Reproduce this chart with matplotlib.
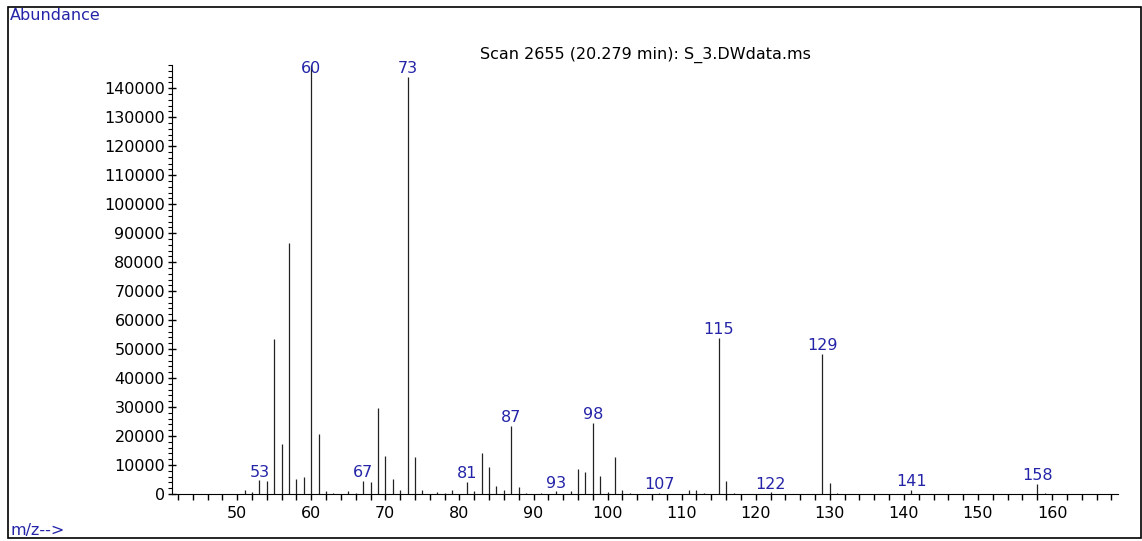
import matplotlib
matplotlib.use("Agg")
import matplotlib.pyplot as plt
from matplotlib.patches import Rectangle
from matplotlib.ticker import MultipleLocator

# peak list (m/z, abundance)
mz = [51, 52, 53, 54, 55, 56, 57, 58, 59, 60, 61, 62, 63, 65, 66, 67, 68, 69, 70,
      71, 72, 73, 74, 75, 77, 78, 79, 81, 82, 83, 84, 85, 86, 87, 88, 89, 91, 93,
      95, 96, 97, 98, 99, 100, 101, 102, 103, 107, 111, 112, 113, 115, 116, 117,
      122, 129, 130, 131, 141, 158, 159]
abundance = [1400, 600, 4700, 4400, 53500, 17100, 86600, 5200, 5900, 148000, 20600,
             1100, 400, 900, 400, 4500, 4100, 29700, 13100, 5100, 1300, 143800,
             12600, 1300, 600, 300, 1500, 4100, 900, 14000, 9300, 2900, 1500, 23400,
             2300, 400, 400, 900, 1000, 8500, 7500, 24600, 6200, 600, 12600, 1500,
             300, 300, 1500, 1500, 400, 53800, 4500, 400, 600, 48300, 3700, 300,
             1500, 3600, 400]
labelled = [53, 60, 67, 73, 81, 87, 93, 98, 107, 115, 122, 129, 141, 158]

title = "Scan 2655 (20.279 min): S_3.DWdata.ms"
blue = "#2424a8"
fs = 11.5

fig = plt.figure(figsize=(11.42, 5.41), dpi=100)
ax = fig.add_axes([172/1142, 1-494/541, (1118-172)/1142, (494-65)/541])

ymax = 148000
ax.vlines(mz, 0, abundance, colors="#222222", linewidth=0.9)

# peak labels, capped just under the top of the axes
for m, h in zip(mz, abundance):
    if m in labelled:
        ax.annotate(str(m), xy=(m, min(h, 143800)), xytext=(0, 0.5),
                    textcoords="offset points", ha="center", va="bottom",
                    color=blue, fontsize=fs)

ax.set_xlim(41.2, 168.9)
ax.set_ylim(0, ymax)
ax.xaxis.set_major_locator(MultipleLocator(10))
ax.xaxis.set_minor_locator(MultipleLocator(2))
ax.yaxis.set_major_locator(MultipleLocator(10000))
ax.yaxis.set_minor_locator(MultipleLocator(2000))
ax.set_xticks(range(50, 161, 10))
ax.tick_params(axis="x", which="both", direction="out", length=4, width=1,
               labelsize=fs, pad=5)
ax.tick_params(axis="y", which="major", direction="inout", length=6, width=1,
               labelsize=fs, pad=2)
ax.tick_params(axis="y", which="minor", direction="out", length=3, width=0.8)
for s in ["top", "right"]:
    ax.spines[s].set_visible(False)
ax.patch.set_visible(False)

ax.text(0.5, 1.005, title, transform=ax.transAxes, ha="center", va="bottom",
        fontsize=fs)

# outer frame and corner captions
fig.patches.append(Rectangle((8/1142, 3/541), 1133/1142, 531/541,
                             transform=fig.transFigure, fill=False,
                             edgecolor="black", linewidth=1.2))
fig.text(10/1142, 1-15/541, "Abundance", color=blue, fontsize=fs,
         ha="left", va="center")
fig.text(10/1142, 1-530/541, "m/z-->", color=blue, fontsize=fs,
         ha="left", va="center")

fig.savefig("out.png", dpi=100)
